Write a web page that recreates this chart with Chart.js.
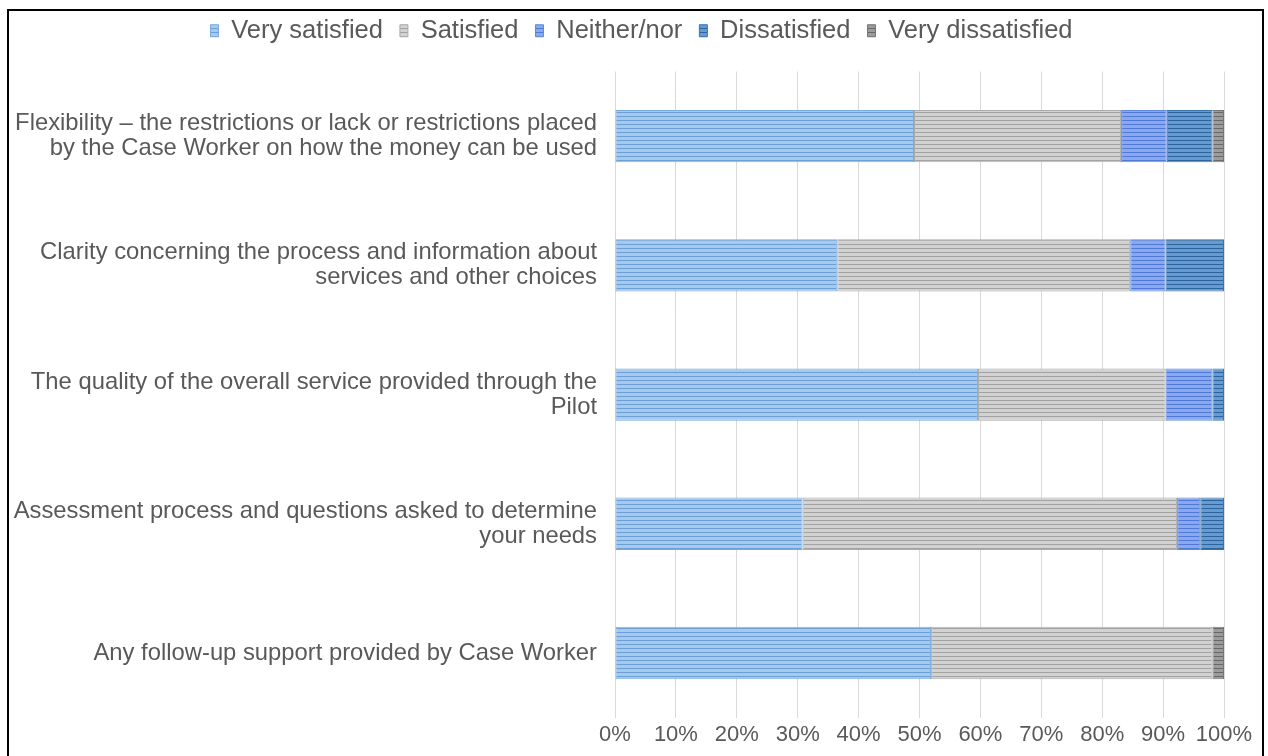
<!DOCTYPE html>
<html>
<head>
<meta charset="utf-8">
<script src="https://cdn.jsdelivr.net/npm/chart.js@4.4.1/dist/chart.umd.min.js"></script>
<style>
    body { margin: 0; background: #fff; }
    #frame {
        position: absolute;
        left: 7px;
        top: 9px;
        width: 1253px;
        height: 760px;
        border: 2px solid #000;
    }
    #chartBox {
        position: absolute;
        left: 9px;
        top: 1px;
        width: 1253px;
        height: 755px;
    }
</style>
</head>
<body>
<div id="frame"></div>
<div id="chartBox"><canvas id="satisfactionChart"></canvas></div>
<script>
const questions = [
    ['Flexibility \u2013 the restrictions or lack or restrictions placed', 'by the Case Worker on how the money can be used'],
    ['Clarity concerning the process and information about', 'services and other choices'],
    ['The quality of the overall service provided through the', 'Pilot'],
    ['Assessment process and questions asked to determine', 'your needs'],
    'Any follow-up support provided by Case Worker'
];

const answerLabels = ['Very satisfied', 'Satisfied', 'Neither/nor', 'Dissatisfied', 'Very dissatisfied'];

// share of answers per question (%)
const verySatisfied    = [49.1, 36.5, 59.6, 30.8, 51.9];
const satisfied        = [34.0, 48.1, 30.8, 61.5, 46.2];
const neitherNor       = [7.5, 5.8, 7.7, 3.8, 0];
const dissatisfied     = [7.5, 9.6, 1.9, 3.9, 0];
const veryDissatisfied = [1.9, 0, 0, 0, 1.9];

const xTicks = [0, 10, 20, 30, 40, 50, 60, 70, 80, 90, 100];

// striped fill like the office chart style
function stripes(light, dark) {
    const c = document.createElement('canvas');
    c.width = 8;
    c.height = 4;
    const g = c.getContext('2d');
    g.fillStyle = light;
    g.fillRect(0, 0, 8, 4);
    g.fillStyle = dark;
    g.fillRect(0, 3, 8, 1);
    return g.createPattern(c, 'repeat');
}

const fills = [
    stripes('#a6c9ed', '#6b9fd6'),
    stripes('#d2d2d2', '#a2a2a2'),
    stripes('#89a9ec', '#5079d6'),
    stripes('#679bcf', '#2c659e'),
    stripes('#9c9c9c', '#686868')
];
const edges = ['#78aade', '#ababab', '#6288dc', '#3b74ad', '#767676'];

const series = [verySatisfied, satisfied, neitherNor, dissatisfied, veryDissatisfied];

// more room under the legend, and the legend sits a little right of centre
const legendTweak = {
    id: 'legendTweak',
    beforeInit(chart) {
        const fit = chart.legend.fit;
        chart.legend.fit = function () {
            fit.call(this);
            this.height += 18;
        };
    },
    afterLayout(chart) {
        chart.legend.left += 25;
        chart.legend.right += 25;
    }
};

const ctx = document.getElementById('satisfactionChart');
const textColor = '#595959';
const fontFamily = '"Liberation Sans", Arial, sans-serif';

new Chart(ctx, {
    type: 'bar',
    data: {
        labels: questions,
        datasets: series.map((values, i) => ({
            label: answerLabels[i],
            data: values,
            backgroundColor: fills[i],
            borderColor: edges[i],
            borderWidth: 1,
            borderSkipped: false,
            categoryPercentage: 0.405,
            barPercentage: 1
        }))
    },
    plugins: [legendTweak],
    options: {
        indexAxis: 'y',
        responsive: true,
        maintainAspectRatio: false,
        animation: false,
        layout: {
            padding: { top: 0, right: 38, bottom: 4, left: 0 }
        },
        plugins: {
            legend: {
                position: 'top',
                labels: {
                    color: textColor,
                    font: { family: fontFamily, size: 25.5 },
                    boxWidth: 8,
                    boxHeight: 12,
                    padding: 17
                }
            },
            tooltip: { enabled: false }
        },
        scales: {
            x: {
                stacked: true,
                min: 0,
                max: 100,
                afterBuildTicks: (scale) => {
                    scale.ticks = xTicks.map(v => ({ value: v }));
                },
                ticks: {
                    color: textColor,
                    font: { family: fontFamily, size: 22 },
                    padding: 4,
                    minRotation: 0,
                    maxRotation: 0,
                    autoSkip: false,
                    callback: (v) => v + '%'
                },
                grid: { color: '#d9d9d9', drawTicks: false },
                border: { display: false }
            },
            y: {
                stacked: true,
                afterFit: (scale) => {
                    // fixed label column; labels sit inside their bands so no extra top/bottom margin
                    scale.width = 606;
                    scale.paddingTop = 0;
                    scale.paddingBottom = 0;
                },
                ticks: {
                    color: textColor,
                    font: { family: fontFamily, size: 23.8, lineHeight: '25px' },
                    padding: 18
                },
                grid: { display: false, drawTicks: false },
                border: { display: false }
            }
        }
    }
});
</script>
</body>
</html>
